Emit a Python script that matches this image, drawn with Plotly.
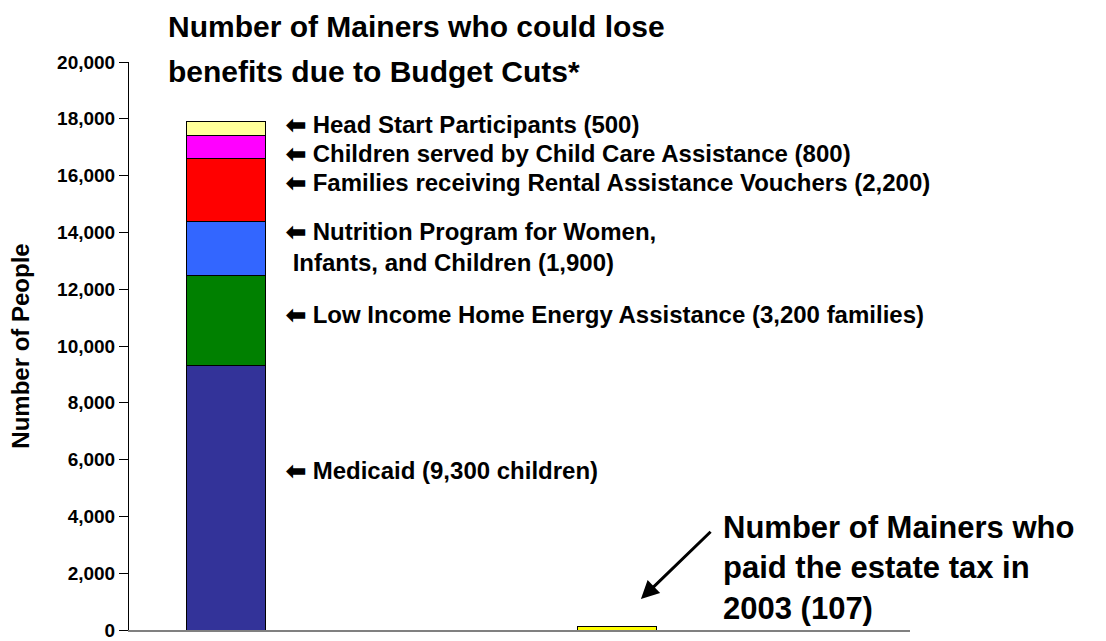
import plotly.graph_objects as go

# Data
categories = ["Budget cuts", "Estate tax"]
series_names = [
    "Medicaid (9,300 children)",
    "Low Income Home Energy Assistance (3,200 families)",
    "Nutrition Program for Women, Infants, and Children (1,900)",
    "Families receiving Rental Assistance Vouchers (2,200)",
    "Children served by Child Care Assistance (800)",
    "Head Start Participants (500)",
]
series_values = [9300, 3200, 1900, 2200, 800, 500]
series_colors = ["#333399", "#008000", "#3366FF", "#FF0000", "#FF00FF", "#FFFF99"]
estate_tax_value = 107
y_ticks = [0, 2000, 4000, 6000, 8000, 10000, 12000, 14000, 16000, 18000, 20000]
label_texts = [
    "<b>\u2b05 Medicaid (9,300 children)</b>",
    "<b>\u2b05 Low Income Home Energy Assistance (3,200 families)</b>",
    "<b>\u2b05 Nutrition Program for Women,<br> Infants, and Children (1,900)</b>",
    "<b>\u2b05 Families receiving Rental Assistance Vouchers (2,200)</b>",
    "<b>\u2b05 Children served by Child Care Assistance (800)</b>",
    "<b>\u2b05 Head Start Participants (500)</b>",
]
label_y = [5610, 11120, 13500, 15750, 16770, 17790]

FONT = "Liberation Sans, Arial, sans-serif"
xpos = [0, 1]

M_T, M_B = 62, 11
PLOT_H = 641 - M_T - M_B

fig = go.Figure()
for name, val, col in zip(series_names, series_values, series_colors):
    fig.add_trace(go.Bar(
        x=[xpos[0]], y=[val], name=name, width=0.2,
        marker=dict(color=col, line=dict(color="#000000", width=1)),
        showlegend=False, hoverinfo="y+name",
    ))
fig.add_trace(go.Bar(
    x=[xpos[1]], y=[estate_tax_value], name="Estate tax payers (2003)", width=0.2,
    marker=dict(color="#FFFF00", line=dict(color="#000000", width=1)),
    showlegend=False,
))

fig.update_layout(
    barmode="stack",
    width=1106, height=641,
    margin=dict(l=129, r=196, t=M_T, b=M_B, autoexpand=False),
    plot_bgcolor="white", paper_bgcolor="white",
    font=dict(family=FONT, color="black"),
    xaxis=dict(range=[-0.248, 1.749], showticklabels=False, ticks="",
               showline=True, linecolor="#808080", linewidth=2,
               showgrid=False, zeroline=False, fixedrange=True,
               automargin=False),
    yaxis=dict(range=[0, 20000], tickvals=y_ticks,
               ticktext=[f"<b>{v:,}</b>" for v in y_ticks],
               tickfont=dict(size=19, family=FONT),
               ticklabeloverflow="allow", automargin=False,
               ticks="outside", ticklen=9, tickcolor="#000000", tickwidth=1,
               showline=True, linecolor="#000000", linewidth=1,
               showgrid=False, zeroline=False),
)

# Title (two lines, placed individually)
fig.add_annotation(
    text="<b>Number of Mainers who could lose</b>",
    xref="paper", yref="paper", x=(166 - 129) / 781, y=1 + (M_T - 27) / PLOT_H,
    xanchor="left", yanchor="middle", align="left", showarrow=False,
    font=dict(size=30, family=FONT),
)
fig.add_annotation(
    text="<b>benefits due to Budget Cuts*</b>",
    xref="paper", yref="paper", x=(166 - 129) / 781, y=1 + (M_T - 72) / PLOT_H,
    xanchor="left", yanchor="middle", align="left", showarrow=False,
    font=dict(size=30, family=FONT),
)

# Y axis title
fig.add_annotation(
    text="<b>Number of People</b>", textangle=-90,
    xref="paper", yref="paper", x=-0.14, y=0.5,
    xanchor="center", yanchor="middle", showarrow=False,
    font=dict(size=24, family=FONT),
)

# Segment labels
for t, yy in zip(label_texts, label_y):
    fig.add_annotation(
        text=t, xref="x", yref="y", x=0.148, y=yy,
        xanchor="left", yanchor="middle", align="left", showarrow=False,
        font=dict(size=24, family=FONT),
    )

# Estate tax label
fig.add_annotation(
    text="<b>Number of Mainers who<br>paid the estate tax in<br>2003 (107)</b>",
    xref="x", yref="y", x=1.266, y=2180,
    xanchor="left", yanchor="middle", align="left", showarrow=False,
    font=dict(size=31, family=FONT),
)
fig.add_annotation(
    x=1.061, y=1088, ax=1.243, ay=3509,
    xref="x", yref="y", axref="x", ayref="y",
    text="", showarrow=True, arrowhead=2, arrowsize=1.2, arrowwidth=3,
    arrowcolor="black",
)

fig.write_html("out.html", config={"displayModeBar": False},
               post_script="document.body.style.margin='0';")
